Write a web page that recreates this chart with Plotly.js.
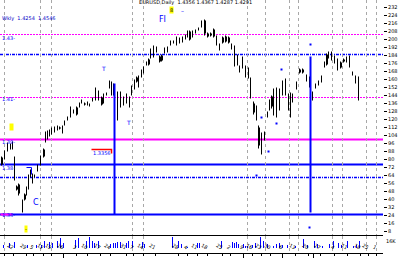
<!DOCTYPE html>
<html><head><meta charset="utf-8">
<script src="https://cdn.plot.ly/plotly-3.0.1.min.js"></script>
<style>html,body{margin:0;padding:0;background:#fff}#chart{width:400px;height:258px}</style>
</head><body><div id="chart"></div>
<script>
// ---- data ----
const days  = [1,4,7,10,12,14,16,18,22,24,26,28,30,32,34,37,40,43,45,47,49,51,54,57,59,62,64,67,70,73,76,79,81,84,87,89,92,95,98,101,103,106,109,111,113,117,120,123,126,129,131,134,136,138,141,143,146,148,150,153,156,159,161,164,167,170,173,176,179,182,185,187,189,192,195,198,201,204,207,210,213,216,219,222,225,228,231,234,237,239,242,245,248,250,253,256,258,261,264,267,269,271,273,276,279,282,285,288,290,292,296,299,302,306,309,312,315,318,321,324,326,328,331,334,337,340,343,346,349,352,355,358];
const open  = [82,81,89,91,91,60,53,55,28,45,45,51,63,57,63,69,75,90,98,101,104,106,108,110,112,107,115,120,123,127,132,133,137,136,135,134,139,140,140,142,137,145,152,145,145,120,133,135,137,133,145,151,162,153,163,167,175,180,182,183,188,183,184,187,188,195,197,195,197,198,201,203,208,203,207,210,213,219,206,206,210,195,190,202,203,202,191,174,175,168,172,163,162,142,136,120,112,86,100,123,130,143,125,123,130,145,145,130,123,138,151,170,170,159,162,140,152,155,158,173,185,182,180,177,170,177,180,178,173,165,157,140];
const high  = [83,89,97,96,98,83,54,56,40,46,53,65,70,66,65,75,84,91,108,109,110,112,113,114,113,114,119,123,133,130,133,137,140,137,138,136,142,152,149,143,146,147,159,158,156,148,148,143,146,143,154,160,163,164,170,173,178,181,191,194,193,184,185,192,193,199,199,203,202,203,205,209,209,209,210,212,219,220,207,207,211,204,196,203,204,203,196,194,185,174,183,174,172,162,138,134,114,107,108,128,140,144,151,152,151,159,161,146,147,146,158,171,171,165,163,148,156,159,164,178,186,188,188,184,181,178,181,183,184,168,164,163];
const low   = [74,80,88,90,90,59,49,44,27,39,44,50,62,56,62,68,74,82,97,100,103,105,107,109,110,106,114,119,122,126,124,132,136,134,134,133,138,139,139,134,136,144,151,144,144,119,132,134,136,132,144,150,157,152,162,166,174,174,181,182,187,177,178,186,187,194,196,194,196,197,200,202,199,202,206,209,212,204,202,203,202,194,189,196,197,196,190,173,174,167,171,162,161,141,125,119,91,85,99,122,129,131,124,122,129,144,144,129,122,137,150,166,166,158,152,139,151,154,157,172,174,181,179,176,169,171,177,177,172,164,156,139];
const close = [75,88,95,94,97,80,50,46,39,40,52,64,69,65,64,74,83,83,107,108,109,111,112,113,111,113,118,122,132,129,125,136,139,135,137,135,141,151,148,135,145,146,158,157,155,147,147,142,145,142,153,159,158,163,169,172,177,175,190,193,192,178,179,191,192,198,198,202,201,202,204,208,200,208,209,211,218,206,203,204,203,203,195,197,198,197,195,193,184,173,182,173,171,161,127,133,94,106,107,127,139,133,150,151,150,158,160,145,146,145,157,167,167,164,153,147,155,158,163,177,175,187,187,183,180,172,178,182,183,167,163,162];

const volDays = [3,9,14,27,36,41,44,49,52,57,60,63,75,78,86,89,92,94,98,110,113,115,117,120,126,128,132,142,144,172,178,181,187,197,199,221,232,234,236,238,243,245,247,252,255,260,263,267,273,276,279,282,287,295,303,307,314,317,322,329,333,338,341,347,353,356,359];
const volume  = [3,5,6,3,3,3,7,6,5,7,10,5,8,10,7,11,7,5,7,4,5,5,6,6,5,7,7,6,4,11,7,4,1,5,5,7,6,5,6,4,4,2,2,3,5,11,7,4,2,4,5,3,3,2,9,3,7,4,2,4,7,5,3,7,2,3,7];

const gridDays   = [4,40,51,132,143,247,265,289,298,332,342,366,376];
const tickDays   = [4,13,26,33,43,51,63,76,87,100,110,126,133,143,155,178,187,197,207,222,230,243,252,261,270,282,295,308,320,334,347,360,368,376];
const tickLabels = ['15','22','29','5','12','19','26','3','10','17','24','31','7','14','21','28','4','11','18','25','2','9','16','23','30','6','13','20','27','4','11','18','25','1'];
const monthDays  = [63,243,282,313];

const levelPrices = [205,185,142,100,75,62,25];
const signalDays  = [114,310];
const signalTop   = [156,183];
const signalBottom= [25,27];

const markDays   = [310,281,261,276,268,256,309];
const markPrices = [195,170,122,116,88,64,12];

const sideLabelPrices = [202,141,98,72,25];
const sideLabelTexts  = ['1.43-','1.41-','1.39-','1.38-','1.36-'];

// ---- styles ----
const levelStyles = [
  {color:'#ff00ff', width:1, dash:'2px,1px'},
  {color:'#0000ff', width:1.3, dash:'3px,1px,1px,1px'},
  {color:'#ff00ff', width:1, dash:'2px,1px'},
  {color:'#ff00ff', width:2, dash:'solid'},
  {color:'#0000ff', width:2, dash:'solid'},
  {color:'#0000ff', width:1.3, dash:'3px,1px,1px,1px'},
  {color:'#0000ff', width:2, dash:'solid'}
];
const F = 'DejaVu Sans';

// derived arrays for the library
const wickLen = high.map((h,i)=>h-low[i]);
const bDays=[], bBase=[], bLen=[];
days.forEach((d,i)=>{ if(close[i]<open[i]){ bDays.push(d); bBase.push(close[i]); bLen.push(open[i]-close[i]); } });

const traces = [
  {type:'bar', x:days, y:wickLen, base:low, width:1, marker:{color:'#000'}, xaxis:'x', yaxis:'y', hoverinfo:'skip'},
  {type:'bar', x:bDays, y:bLen, base:bBase, width:2, offset:-0.5, marker:{color:'#000'}, xaxis:'x', yaxis:'y', hoverinfo:'skip'},
  {type:'bar', x:volDays, y:volume, width:1, marker:{color:'#0000ff'}, xaxis:'x2', yaxis:'y2', hoverinfo:'skip'},
  {type:'scatter', mode:'markers', x:markDays, y:markPrices, marker:{symbol:'square', size:2, color:'#0000ff'}, xaxis:'x', yaxis:'y', hoverinfo:'skip'}
];

const shapes = [];
levelPrices.forEach((p,i)=>{
  shapes.push({type:'line', xref:'paper', yref:'y', x0:0, x1:1, y0:p, y1:p, line:levelStyles[i], layer:'below'});
});
signalDays.forEach((d,i)=>{
  shapes.push({type:'line', xref:'x', yref:'y', x0:d, x1:d, y0:signalBottom[i], y1:signalTop[i], line:{color:'#0000ff', width:2}});
});
monthDays.forEach(d=>{
  shapes.push({type:'line', xref:'x2', yref:'paper', x0:d, x1:d, y0:-5/253, y1:0, line:{color:'#000', width:1}});
});
// red bracket
const bracketStart=91, bracketEnd=111, bracketPrice=90;
shapes.push({type:'path', xref:'x', yref:'y', path:`M${bracketStart},${bracketPrice} L${bracketEnd},${bracketPrice} L${bracketEnd},${bracketPrice-4}`, line:{color:'#ff0000', width:1.5}});
// small blue corner mark
shapes.push({type:'path', xref:'x', yref:'y', path:'M26,72 L31,72 L31,65', line:{color:'#0000ff', width:1}});
// magenta stub at lower left
shapes.push({type:'line', xref:'x', yref:'y', x0:0, x1:12, y0:25, y1:25, line:{color:'#ff00ff', width:2}});

const annotations = [
  {xref:'paper', yref:'y', x:137/383, y:237, xanchor:'left', yanchor:'middle', text:'EURUSD,Daily  1.4356 1.4367 1.4287 1.4291', showarrow:false, font:{family:F, size:5, color:'#000'}},
  {xref:'paper', yref:'y', x:0, y:221, xanchor:'left', yanchor:'middle', text:'Wkly  1.4254  1.4546', showarrow:false, font:{family:F, size:5, color:'#0000c8'}},
  {xref:'x', yref:'y', x:171, y:229.5, text:'8', showarrow:false, bgcolor:'#ffff00', borderpad:0, font:{family:F, size:5, color:'#000'}},
  {xref:'x', yref:'y', x:182, y:229, text:'–', showarrow:false, font:{family:F, size:6, color:'#0000ff'}},
  {xref:'x', yref:'y', x:162, y:220, text:'FI', showarrow:false, font:{family:F, size:8, color:'#0000ff'}},
  {xref:'x', yref:'y', x:103, y:171, text:'T', showarrow:false, font:{family:F, size:6, color:'#0000ff'}},
  {xref:'x', yref:'y', x:128, y:117, text:'T', showarrow:false, font:{family:F, size:6, color:'#0000ff'}},
  {xref:'x', yref:'y', x:11, y:113, text:'1', showarrow:false, bgcolor:'#ffff00', borderpad:0, font:{family:F, size:5, color:'#ffff00'}},
  {xref:'x', yref:'y', x:35, y:37, text:'C', showarrow:false, font:{family:F, size:8, color:'#0000ff'}},
  {xref:'x', yref:'y', x:25, y:11, text:'-', showarrow:false, bgcolor:'#ffff00', borderpad:0, font:{family:F, size:5, color:'#000'}},
  {xref:'x', yref:'y', x:101, y:87, text:'1.3356', showarrow:false, font:{family:F, size:5, color:'#0000ff'}},
  {xref:'paper', yref:'y2', x:1.003, y:7, xanchor:'left', text:'16K', showarrow:false, font:{family:F, size:5, color:'#000'}}
];
sideLabelPrices.forEach((p,i)=>{
  annotations.push({xref:'paper', yref:'y', x:0, y:p, xanchor:'left', yanchor:'middle', text:sideLabelTexts[i], showarrow:false, font:{family:F, size:5, color:'#0000ff'}});
});

const layout = {
  width:400, height:258, margin:{l:0, r:17, t:0, b:5},
  paper_bgcolor:'#fff', plot_bgcolor:'#fff', showlegend:false, barmode:'overlay', hovermode:false,
  font:{family:F, size:5, color:'#000'},
  xaxis:{domain:[0,1], range:[-0.5,382.5], anchor:'y', tickmode:'array', tickvals:gridDays, showticklabels:false, ticks:'',
         showgrid:true, gridcolor:'#a8a8a8', griddash:'dot', gridwidth:1, zeroline:false, showline:false},
  yaxis:{domain:[17/253,1], range:[3.5,239.5], anchor:'x', side:'right', tickmode:'linear', tick0:0, dtick:8,
         ticks:'outside', ticklen:3, tickcolor:'#000', tickfont:{family:F, size:5, color:'#000'}, showgrid:false, zeroline:false, showline:false},
  xaxis2:{domain:[0,1], range:[-0.5,382.5], anchor:'y2', tickmode:'array', tickvals:tickDays, ticktext:tickLabels,
          ticks:'outside', ticklen:2, tickcolor:'#000', ticklabelposition:'inside', tickfont:{family:F, size:5, color:'#000'},
          showline:true, linecolor:'#000', linewidth:1, mirror:true, showgrid:false, zeroline:false,
          minor:{tickmode:'array', tickvals:gridDays, showgrid:true, gridcolor:'#a8a8a8', griddash:'dot', ticks:''}},
  yaxis2:{domain:[0,17/253], range:[-5,12], anchor:'x2', showticklabels:false, showgrid:false, zeroline:false, ticks:''},
  shapes:shapes, annotations:annotations
};
Plotly.newPlot('chart', traces, layout, {staticPlot:true, displayModeBar:false});
</script></body></html>
